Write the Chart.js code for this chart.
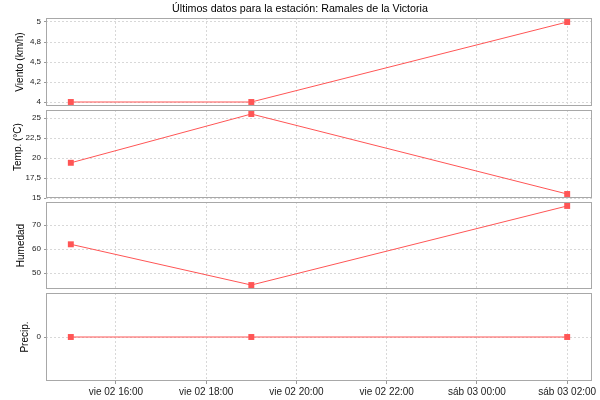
<!DOCTYPE html>
<html>
<head>
<meta charset="utf-8">
<script src="https://cdn.jsdelivr.net/npm/chart.js@4.4.0/dist/chart.umd.min.js"></script>
<style>
  body { margin: 0; background: #fff; }
  #wrap { position: relative; width: 600px; height: 400px; }
  #wrap canvas { position: absolute; left: 0; top: 0; }
  #title { position: absolute; left: 0; top: 2px; width: 600px; text-align: center;
           font: 10.7px/13px "Liberation Sans", Arial, sans-serif; color: #000; }
</style>
</head>
<body>
<div id="wrap">
  <canvas id="c0" width="600" height="400"></canvas>
  <canvas id="c1" width="600" height="400"></canvas>
  <canvas id="c2" width="600" height="400"></canvas>
  <canvas id="c3" width="600" height="400"></canvas>
  <div id="title">Últimos datos para la estación: Ramales de la Victoria</div>
</div>
<script>
// --- DATA ---
const times = [15, 19, 26];            // horas desde vie 02 00:00
const viento = [4, 4, 5];
const temp = [19.4, 25.5, 15.5];
const humedad = [62, 45, 78];
const precip = [0, 0, 0];

const xTicks = [16, 18, 20, 22, 24, 26];
const xTickLabels = ['vie 02 16:00', 'vie 02 18:00', 'vie 02 20:00', 'vie 02 22:00', 'sáb 03 00:00', 'sáb 03 02:00'];

const vientoTicks = [4, 4.25, 4.5, 4.75, 5];
const vientoTickLabels = ['4', '4,2', '4,5', '4,8', '5'];
const tempTicks = [15, 17.5, 20, 22.5, 25];
const tempTickLabels = ['15', '17,5', '20', '22,5', '25'];
const humedadTicks = [50, 60, 70];
const humedadTickLabels = ['50', '60', '70'];
const precipTicks = [0];
const precipTickLabels = ['0'];

// --- CONFIG ---
const FONT = '"Liberation Sans", Arial, sans-serif';
const RED = '#ff5555';
const GRID = '#d8d8d8';
const X_MIN = 14.45, X_MAX = 26.55;

// titlePad moves each axis title next to its own tick labels
const panels = [
  { id: 'c0', label: 'Viento (km/h)',      data: viento,  ticks: vientoTicks,  labels: vientoTickLabels,  min: 3.95,  max: 5.05,  top: 18,  bottom: 106, titlePad: 14 },
  { id: 'c1', label: '     Temp. (°C)',    data: temp,    ticks: tempTicks,    labels: tempTickLabels,    min: 15,    max: 26,    top: 110, bottom: 198, titlePad: 12 },
  { id: 'c2', label: 'Humedad',            data: humedad, ticks: humedadTicks, labels: humedadTickLabels, min: 43.35, max: 79.65, top: 202, bottom: 289, titlePad: 15.5 },
  { id: 'c3', label: 'Precip.',            data: precip,  ticks: precipTicks,  labels: precipTickLabels,  min: -1,    max: 1,     top: 293, bottom: 381, titlePad: 19 }
];

// frame around each plot area
const boxPlugin = {
  id: 'box',
  beforeDatasetsDraw(chart) {
    const { ctx, chartArea: a } = chart;
    ctx.save();
    ctx.strokeStyle = '#a8a8a8';
    ctx.lineWidth = 1;
    ctx.strokeRect(Math.round(a.left) + 0.5, Math.round(a.top) + 0.5,
                   Math.round(a.right - a.left) - 1, Math.round(a.bottom - a.top) - 1);
    ctx.restore();
  }
};

panels.forEach((p, idx) => {
  const last = idx === panels.length - 1;
  new Chart(document.getElementById(p.id), {
    type: 'line',
    data: {
      datasets: [{
        data: times.map((t, i) => ({ x: t, y: p.data[i] })),
        borderColor: RED,
        borderWidth: 1,
        backgroundColor: RED,
        pointStyle: 'rect',
        pointRadius: 4.2,
        pointBorderWidth: 0,
        tension: 0,
        fill: false
      }]
    },
    options: {
      responsive: false,
      animation: false,
      events: [],
      layout: { padding: { left: 0, right: 8, top: p.top, bottom: last ? 0 : 400 - p.bottom } },
      plugins: { legend: { display: false }, tooltip: { enabled: false } },
      scales: {
        x: {
          type: 'linear',
          min: X_MIN,
          max: X_MAX,
          afterBuildTicks: s => { s.ticks = xTicks.map(v => ({ value: v })); },
          afterFit: s => { s.height = last ? 400 - p.bottom : 0; },
          grid: { color: GRID, drawTicks: last, tickLength: 3, tickColor: '#999', tickBorderDash: [] },
          border: { display: false, dash: [2, 2] },
          ticks: {
            display: last,
            autoSkip: false,
            maxRotation: 0,
            padding: 2,
            color: '#222',
            font: { family: FONT, size: 10 },
            callback: (v, i) => xTickLabels[i]
          }
        },
        y: {
          min: p.min,
          max: p.max,
          afterBuildTicks: s => { s.ticks = p.ticks.map(v => ({ value: v })); },
          afterFit: s => { s.width = 46; },
          grid: { color: GRID, tickLength: 2, tickColor: '#999', tickBorderDash: [] },
          border: { display: false, dash: [2, 2] },
          ticks: {
            padding: 3,
            color: '#222',
            font: { family: FONT, size: 8 },
            callback: (v, i) => p.labels[i]
          },
          title: {
            display: true,
            text: p.label,
            color: '#000',
            font: { family: FONT, size: 10 },
            padding: { top: p.titlePad, bottom: 0 }
          }
        }
      }
    },
    plugins: [boxPlugin]
  });
});
</script>
</body>
</html>
